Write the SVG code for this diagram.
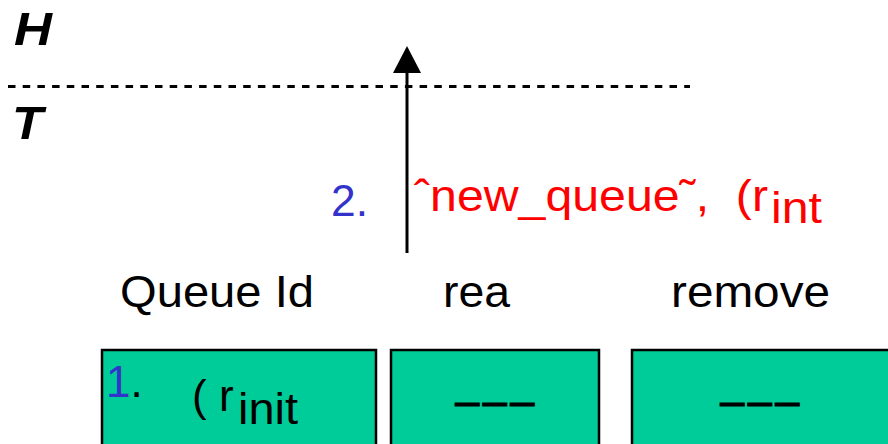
<svg xmlns="http://www.w3.org/2000/svg" width="888" height="444" viewBox="0 0 888 444">
  <style>
    .lbl { font-family: "Liberation Sans", Arial, sans-serif; font-size: 44px; fill: #000; }
    .hd { font-family: "Liberation Sans", Arial, sans-serif; font-size: 46px; font-weight: bold; font-style: italic; fill: #000; }
    .blue { fill: #3333CC; }
    .red { fill: #FF0000; }
    .cell { fill: #00CC99; stroke: #000; stroke-width: 2.5; }
    .dash { letter-spacing: 3px; stroke: #000; stroke-width: 0.8; }
  </style>
  <rect width="888" height="444" fill="#fff"/>

  <!-- level labels and separator -->
  <g id="levels">
    <text class="hd" x="14" y="45" textLength="38" lengthAdjust="spacingAndGlyphs">H</text>
    <text class="hd" x="12" y="139" textLength="31" lengthAdjust="spacingAndGlyphs">T</text>
    <line x1="8" y1="86.5" x2="690" y2="86.5" stroke="#000" stroke-width="3" stroke-dasharray="7.5 7.2"/>
  </g>

  <!-- message arrow -->
  <g id="connectors">
    <line x1="407" y1="253" x2="407" y2="70" stroke="#000" stroke-width="3"/>
    <polygon points="407,46 393,73 421,73" fill="#000"/>
  </g>

  <g id="message">
    <text class="lbl blue" x="331" y="216" textLength="37" lengthAdjust="spacingAndGlyphs">2.</text>
    <text class="lbl red" x="414" y="211" font-size="50" xml:space="preserve" textLength="354" lengthAdjust="spacingAndGlyphs">ˆnew_queue˜,  (r</text>
    <text class="lbl red" x="771" y="223" textLength="51" lengthAdjust="spacingAndGlyphs">int</text>
  </g>

  <!-- column headers -->
  <g id="headers">
    <text class="lbl" x="120" y="307" textLength="194" lengthAdjust="spacingAndGlyphs">Queue Id</text>
    <text class="lbl" x="443" y="307" textLength="67" lengthAdjust="spacingAndGlyphs">rea</text>
    <text class="lbl" x="671" y="307" textLength="159" lengthAdjust="spacingAndGlyphs">remove</text>
  </g>

  <!-- queue cells -->
  <g id="cell-queue-id">
    <rect class="cell" x="102" y="350" width="274" height="110"/>
    <text class="lbl" x="106" y="397"><tspan class="blue">1</tspan>.</text>
    <text class="lbl" x="192" y="411" font-size="46" xml:space="preserve">( r</text>
    <text class="lbl" x="238" y="424" textLength="60" lengthAdjust="spacingAndGlyphs">init</text>
  </g>
  <g id="cell-rea">
    <rect class="cell" x="391" y="350" width="208" height="110"/>
    <text class="lbl dash" x="455" y="416">–––</text>
  </g>
  <g id="cell-remove">
    <rect class="cell" x="632" y="350" width="270" height="110"/>
    <text class="lbl dash" x="720" y="416">–––</text>
  </g>
</svg>
